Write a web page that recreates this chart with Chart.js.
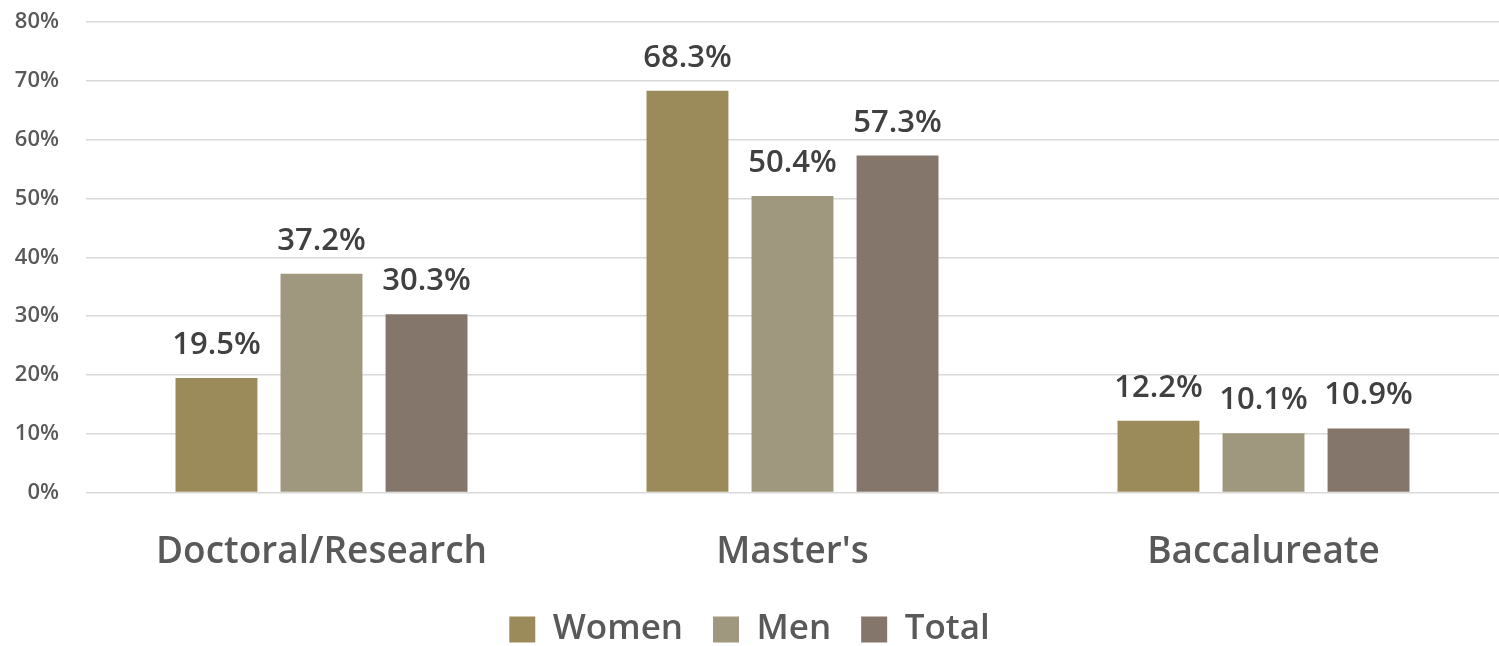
<!DOCTYPE html>
<html>
<head>
<meta charset="utf-8">
<script src="https://cdn.jsdelivr.net/npm/chart.js@4.4.0/dist/chart.umd.min.js"></script>
<style>
  html, body { margin: 0; padding: 0; background: #fff; }
  #wrap { width: 1499px; height: 646px; }
</style>
</head>
<body>
<div id="wrap"><canvas id="degreeChart" width="1499" height="646"></canvas></div>
<script>
const categories = ["Doctoral/Research", "Master's", "Baccalureate"];
const women = [19.5, 68.3, 12.2];
const men = [37.2, 50.4, 10.1];
const total = [30.3, 57.3, 10.9];
const yTicks = [0, 10, 20, 30, 40, 50, 60, 70, 80];

const FONT = "'Open Sans', 'DejaVu Sans', sans-serif";

// writes each bar's value above it
const valueLabels = {
    id: "valueLabels",
    afterDatasetsDraw(chart) {
        const ctx = chart.ctx;
        ctx.save();
        ctx.font = `600 31px ${FONT}`;
        ctx.fillStyle = "#404040";
        ctx.textAlign = "center";
        ctx.textBaseline = "alphabetic";
        chart.data.datasets.forEach((ds, i) => {
            chart.getDatasetMeta(i).data.forEach((bar, j) => {
                ctx.fillText(ds.data[j].toFixed(1) + "%", bar.x, bar.y - 24);
            });
        });
        ctx.restore();
    }
};

new Chart(document.getElementById("degreeChart").getContext("2d"), {
    type: "bar",
    data: {
        labels: categories,
        datasets: [
            { label: "Women", data: women, backgroundColor: "#9c8b5a" },
            { label: "Men", data: men, backgroundColor: "#9f977e" },
            { label: "Total", data: total, backgroundColor: "#85766c" }
        ]
    },
    options: {
        responsive: false,
        animation: false,
        categoryPercentage: 0.669,
        barPercentage: 0.78,
        layout: { padding: { top: 22, right: 0, left: 0, bottom: -11 } },
        plugins: {
            legend: {
                position: "bottom",
                labels: {
                    boxWidth: 26,
                    boxHeight: 26,
                    padding: 30,
                    color: "#595959",
                    font: { family: FONT, size: 35, weight: "600" }
                }
            },
            tooltip: { enabled: false }
        },
        scales: {
            x: {
                afterFit: (scale) => {
                    scale.height -= 23;
                    scale.paddingTop = 0;
                    scale.paddingBottom = 0;
                },
                grid: { display: false },
                border: { display: false },
                ticks: {
                    color: "#595959",
                    padding: 30,
                    font: { family: FONT, size: 37, weight: "600" }
                }
            },
            y: {
                min: 0,
                max: 80,
                afterFit: (scale) => {
                    scale.width = 86;
                    scale.paddingTop = 0;
                    scale.paddingBottom = 0;
                },
                afterBuildTicks: (scale) => { scale.ticks = yTicks.map(v => ({ value: v })); },
                grid: { color: "#d9d9d9", lineWidth: 1.5, drawTicks: false },
                border: { display: false },
                ticks: {
                    color: "#595959",
                    padding: 27,
                    font: { family: FONT, size: 22, weight: "600" },
                    callback: (v) => v + "%"
                }
            }
        }
    },
    plugins: [valueLabels]
});
</script>
</body>
</html>
